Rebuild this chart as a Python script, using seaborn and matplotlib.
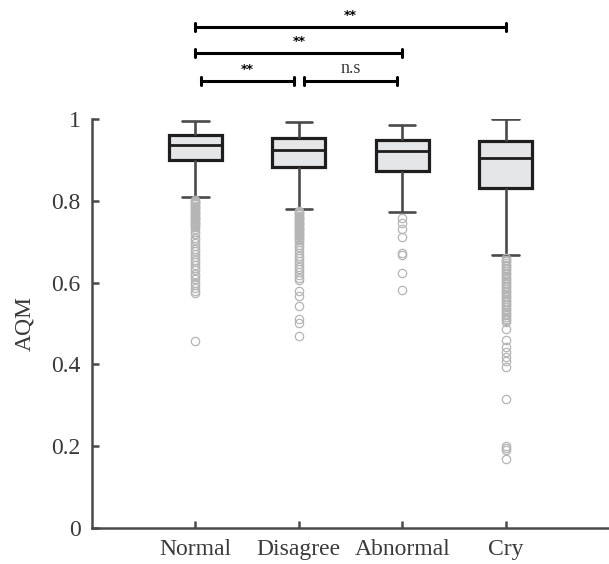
import numpy as np
import pandas as pd
import matplotlib
matplotlib.use("Agg")
import matplotlib.pyplot as plt
import seaborn as sns

# categorias e resumo de cada caixa
groups = ["Normal", "Disagree", "Abnormal", "Cry"]
whisker_low = [0.810, 0.780, 0.773, 0.667]
q1 = [0.899, 0.883, 0.874, 0.832]
median = [0.937, 0.924, 0.922, 0.905]
q3 = [0.962, 0.953, 0.948, 0.945]
whisker_high = [0.996, 0.992, 0.986, 1.000]

normal_out = [0.803, 0.800, 0.797, 0.794, 0.791, 0.788, 0.785, 0.782, 0.779, 0.776,
              0.773, 0.770, 0.767, 0.764, 0.761, 0.758, 0.755, 0.752, 0.749, 0.746,
              0.743, 0.740, 0.737, 0.731, 0.724, 0.718, 0.710, 0.703, 0.697, 0.690,
              0.683, 0.676, 0.669, 0.663, 0.656, 0.650, 0.643, 0.636, 0.630, 0.622,
              0.615, 0.608, 0.600, 0.593, 0.587, 0.580, 0.575, 0.458]
disagree_out = [0.776, 0.773, 0.770, 0.767, 0.764, 0.761, 0.758, 0.755, 0.752, 0.749,
                0.746, 0.743, 0.740, 0.737, 0.734, 0.731, 0.728, 0.725, 0.722, 0.719,
                0.716, 0.713, 0.710, 0.707, 0.704, 0.698, 0.692, 0.686, 0.679, 0.672,
                0.666, 0.659, 0.652, 0.645, 0.638, 0.632, 0.625, 0.618, 0.612, 0.606,
                0.580, 0.566, 0.543, 0.510, 0.502, 0.469]
abnormal_out = [0.757, 0.745, 0.731, 0.711, 0.672, 0.668, 0.623, 0.582]
cry_out = [0.660, 0.656, 0.652, 0.648, 0.644, 0.640, 0.636, 0.632, 0.628, 0.624,
           0.620, 0.616, 0.612, 0.608, 0.604, 0.600, 0.596, 0.592, 0.588, 0.584,
           0.580, 0.576, 0.572, 0.568, 0.564, 0.560, 0.556, 0.552, 0.548, 0.544,
           0.540, 0.536, 0.532, 0.528, 0.524, 0.520, 0.516, 0.512, 0.508, 0.504,
           0.487, 0.460, 0.443, 0.431, 0.419, 0.407, 0.394, 0.315, 0.200, 0.195,
           0.190, 0.168]
outliers = [normal_out, disagree_out, abnormal_out, cry_out]

# comparações: (grupo a, grupo b, texto, nível)
comparisons = [(0, 3, "**", 2), (0, 2, "**", 1), (0, 1, "**", 0), (1, 2, "n.s", 0)]
level_y = [1.093, 1.161, 1.225]

# montar dados longos para que os quartis saiam exatos
rows = []
for i, g in enumerate(groups):
    out = outliers[i]
    m = len(out) + 1
    vals = list(out) + [whisker_low[i]] + [q1[i]] * m + [median[i]] * m + [q3[i]] * m + [whisker_high[i]]
    rows += [(g, v) for v in vals]
df = pd.DataFrame(rows, columns=["group", "AQM"])

sns.set_theme(style="ticks")
plt.rcParams["font.family"] = ["Liberation Serif", "DejaVu Serif"]

axis_col = "#4a4a4a"
text_col = "#3a3a3a"

fig = plt.figure(figsize=(6.09, 5.64), dpi=100)
ax = fig.add_axes([0.151, 0.064, 0.849, 0.725])

sns.boxplot(data=df, x="group", y="AQM", order=groups, ax=ax, width=0.51,
            color="#e5e6e7", linecolor="#1e1e1e", linewidth=2.3,
            whiskerprops=dict(color=axis_col, linewidth=1.9),
            capprops=dict(color=axis_col, linewidth=1.9),
            medianprops=dict(color="#1e1e1e", linewidth=2.0),
            flierprops=dict(marker="o", markerfacecolor="none", markeredgecolor="#b5b5b5",
                            markersize=6, markeredgewidth=0.9))

ax.set_xlim(-1, 4)
ax.set_ylim(0, 1)
ax.set_yticks([0, 0.2, 0.4, 0.6, 0.8, 1.0])
ax.set_yticklabels(["0", "0.2", "0.4", "0.6", "0.8", "1"])
ax.set_xlabel("")
ax.set_ylabel("AQM", fontsize=17, color=text_col, labelpad=12)

sns.despine(ax=ax)
for s in ["left", "bottom"]:
    ax.spines[s].set_color(axis_col)
    ax.spines[s].set_linewidth(1.8)
ax.tick_params(direction="in", length=5, width=1.8, color=axis_col,
               labelsize=17, labelcolor=text_col, pad=8)

# barras de significância
for a, b, label, lvl in comparisons:
    y = level_y[lvl]
    shrink = 0.05 if lvl == 0 else 0.0
    x0, x1 = a + shrink, b - shrink
    ax.plot([x0, x1], [y, y], color="black", lw=2.2, clip_on=False, solid_capstyle="butt")
    for xe in (x0, x1):
        ax.plot([xe, xe], [y - 0.01, y + 0.01], color="black", lw=2.2, clip_on=False)
    if label == "n.s":
        ax.text((x0 + x1) / 2, y + 0.01, label, ha="center", va="bottom",
                fontsize=13, color=text_col, clip_on=False)
    else:
        ax.text((x0 + x1) / 2, y + 0.012, label, ha="center", va="bottom",
                fontsize=9, fontweight="bold", family="DejaVu Sans", color="black",
                clip_on=False)

fig.savefig("out.png", dpi=100)
